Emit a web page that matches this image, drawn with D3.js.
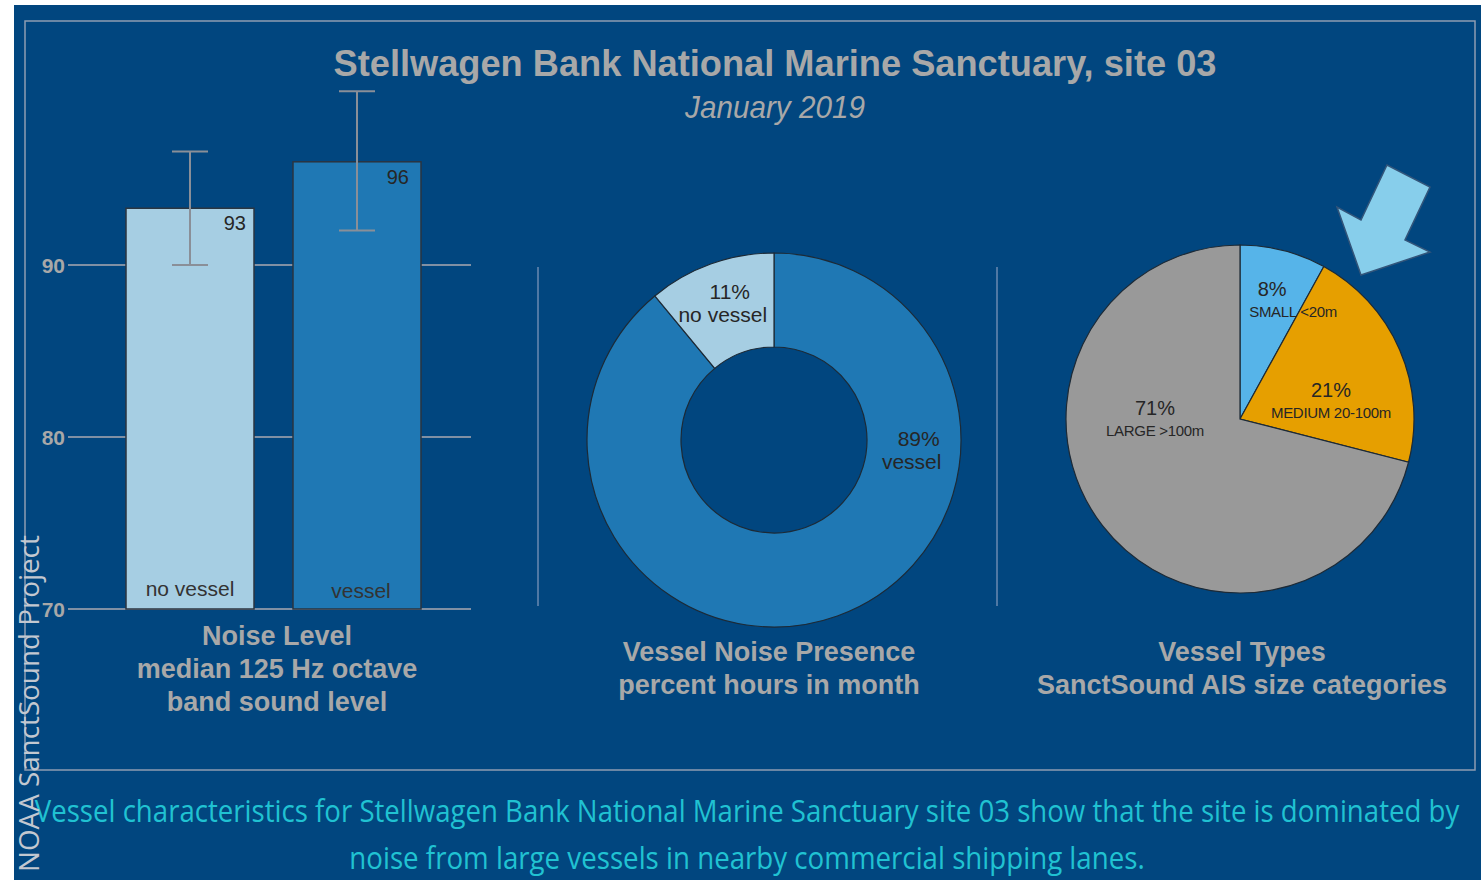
<!DOCTYPE html>
<html>
<head>
<meta charset="utf-8">
<script src="https://cdn.jsdelivr.net/npm/d3@7"></script>
<style>
  html, body { margin: 0; padding: 0; background: #fff; }
  svg { display: block; }
</style>
</head>
<body>
<div id="chart"></div>
<script>
// noise level panel
const barCategories = ["no vessel", "vessel"];
const barMedians = [93.3, 96.0];
const barLow = [90.0, 92.0];
const barHigh = [96.6, 100.1];
const barLabels = ["93", "96"];
const yTicks = [70, 80, 90];

// vessel noise presence panel
const presenceCategories = ["vessel", "no vessel"];
const presenceValues = [89, 11];

// vessel types panel
const typeCategories = ["SMALL <20m", "MEDIUM 20-100m", "LARGE >100m"];
const typeValues = [8, 21, 71];

const width = 1481;
const height = 880;
const bg = "#01467f";
const grey = "#a8a8a8";
const ink = "#262626";
const sans = "'Liberation Sans', Arial, Helvetica, sans-serif";

const svg = d3
  .select("#chart")
  .append("svg")
  .attr("width", width)
  .attr("height", height);

// squeeze/stretch a centred text horizontally so it spans `target` px
function fitWidth(sel, cx, y, target) {
  const natural = sel.node().getComputedTextLength();
  sel.attr("x", 0).attr("y", 0)
    .attr("transform", `translate(${cx}, ${y}) scale(${target / natural}, 1)`);
}

svg.append("rect")
  .attr("x", 14).attr("y", 5)
  .attr("width", width - 14).attr("height", height - 5)
  .attr("fill", bg);

svg.append("rect")
  .attr("x", 25).attr("y", 21)
  .attr("width", 1450).attr("height", 749)
  .attr("fill", "none")
  .attr("stroke", "#8e9db2")
  .attr("stroke-width", 1.5);

// title
const title = svg.append("text")
  .attr("text-anchor", "middle")
  .attr("font-family", sans)
  .attr("font-weight", "bold")
  .attr("font-size", 36)
  .attr("fill", grey)
  .text("Stellwagen Bank National Marine Sanctuary, site 03");
fitWidth(title, 775, 76, 883);

const subtitle = svg.append("text")
  .attr("text-anchor", "middle")
  .attr("font-family", sans)
  .attr("font-style", "italic")
  .attr("font-size", 32)
  .attr("fill", grey)
  .text("January 2019");
fitWidth(subtitle, 775, 118, 180);

// separators
[538, 997].forEach((x) => {
  svg.append("line")
    .attr("x1", x).attr("x2", x)
    .attr("y1", 267).attr("y2", 606)
    .attr("stroke", "#4f78a4")
    .attr("stroke-width", 2);
});

// ---- bar panel ----
const yScale = d3.scaleLinear().domain([70, 100]).range([609, 93]);
const xScale = d3.scaleBand()
  .domain(barCategories)
  .range([126, 421])
  .paddingInner(39 / 167)
  .paddingOuter(0);

const barG = svg.append("g");

barG.append("g")
  .selectAll("line")
  .data(yTicks)
  .join("line")
  .attr("x1", 68).attr("x2", 471)
  .attr("y1", (d) => yScale(d))
  .attr("y2", (d) => yScale(d))
  .attr("stroke", "#8090a4")
  .attr("stroke-width", 2);

barG.append("g")
  .selectAll("text")
  .data(yTicks)
  .join("text")
  .attr("x", 65)
  .attr("y", (d) => yScale(d) + 8)
  .attr("text-anchor", "end")
  .attr("font-family", sans)
  .attr("font-weight", "bold")
  .attr("font-size", 21)
  .attr("fill", grey)
  .text((d) => d);

const barFill = d3.scaleOrdinal().domain(barCategories).range(["#a6cee3", "#1f78b4"]);

barG.append("g")
  .selectAll("rect")
  .data(barCategories)
  .join("rect")
  .attr("x", (d) => xScale(d))
  .attr("y", (d, i) => yScale(barMedians[i]))
  .attr("width", xScale.bandwidth())
  .attr("height", (d, i) => yScale(70) - yScale(barMedians[i]))
  .attr("fill", (d) => barFill(d))
  .attr("stroke", "#2b3540")
  .attr("stroke-width", 1.5);

const errG = barG.append("g")
  .attr("stroke", "#8a8f98")
  .attr("stroke-width", 2);
barCategories.forEach((c, i) => {
  const cx = xScale(c) + xScale.bandwidth() / 2;
  errG.append("line")
    .attr("x1", cx).attr("x2", cx)
    .attr("y1", yScale(barHigh[i])).attr("y2", yScale(barLow[i]));
  [barHigh[i], barLow[i]].forEach((v) => {
    errG.append("line")
      .attr("x1", cx - 18).attr("x2", cx + 18)
      .attr("y1", yScale(v)).attr("y2", yScale(v));
  });
});

barG.append("g")
  .selectAll("text")
  .data(barCategories)
  .join("text")
  .attr("x", (d, i) => xScale(d) + xScale.bandwidth() - 8 - i * 4)
  .attr("y", (d, i) => yScale(barMedians[i]) + 22)
  .attr("text-anchor", "end")
  .attr("font-family", sans)
  .attr("font-size", 20)
  .attr("fill", ink)
  .text((d, i) => barLabels[i]);

barG.append("g")
  .selectAll("text")
  .data(barCategories)
  .join("text")
  .attr("x", (d, i) => xScale(d) + xScale.bandwidth() / 2 + i * 4)
  .attr("y", (d, i) => yScale(70) - 13 + i * 2)
  .attr("text-anchor", "middle")
  .attr("font-family", sans)
  .attr("font-size", 21)
  .attr("fill", "#333")
  .text((d) => d);

function panelCaption(cx, y0, lines) {
  svg.append("g")
    .selectAll("text")
    .data(lines)
    .join("text")
    .attr("x", cx)
    .attr("y", (d, i) => y0 + i * 33)
    .attr("text-anchor", "middle")
    .attr("font-family", sans)
    .attr("font-weight", "bold")
    .attr("font-size", 27)
    .attr("fill", grey)
    .text((d) => d);
}
panelCaption(277, 645, ["Noise Level", "median 125 Hz octave", "band sound level"]);
panelCaption(769, 661, ["Vessel Noise Presence", "percent hours in month"]);
panelCaption(1242, 661, ["Vessel Types", "SanctSound AIS size categories"]);

// ---- donut panel ----
const donutCenter = [774, 440];
const pie = d3.pie().sort(null).value((d) => d.value);
const presence = pie(presenceCategories.map((c, i) => ({ name: c, value: presenceValues[i] })));
const donutArc = d3.arc().innerRadius(93).outerRadius(187);
const donutFill = d3.scaleOrdinal().domain(presenceCategories).range(["#1f78b4", "#a6cee3"]);

const donutG = svg.append("g")
  .attr("transform", `translate(${donutCenter[0]}, ${donutCenter[1]})`);

donutG.selectAll("path")
  .data(presence)
  .join("path")
  .attr("d", donutArc)
  .attr("fill", (d) => donutFill(d.data.name))
  .attr("stroke", "#1d2a36")
  .attr("stroke-width", 1.2);

// label placement (angle in degrees clockwise from top, radius)
const donutLabelPos = { "vessel": [94, 142], "no vessel": [-19, 145] };
presence.forEach((d) => {
  const [deg, r] = donutLabelPos[d.data.name];
  const a = (deg * Math.PI) / 180;
  const lx = r * Math.sin(a);
  const ly = -r * Math.cos(a);
  const t = donutG.append("text")
    .attr("text-anchor", "middle")
    .attr("font-family", sans)
    .attr("font-size", 21)
    .attr("fill", ink);
  t.append("tspan").attr("x", lx + 3).attr("y", ly - 4).text(`${d.data.value}%`);
  t.append("tspan").attr("x", lx - 4).attr("y", ly + 19).text(d.data.name);
});

// ---- pie panel ----
const pieCenter = [1240, 419];
const types = pie(typeCategories.map((c, i) => ({ name: c, value: typeValues[i] })));
const pieArc = d3.arc().innerRadius(0).outerRadius(174);
const typeFill = d3.scaleOrdinal().domain(typeCategories).range(["#56b4e9", "#e69f00", "#999999"]);

const pieG = svg.append("g")
  .attr("transform", `translate(${pieCenter[0]}, ${pieCenter[1]})`);

pieG.selectAll("path")
  .data(types)
  .join("path")
  .attr("d", pieArc)
  .attr("fill", (d) => typeFill(d.data.name))
  .attr("stroke", "#1d2a36")
  .attr("stroke-width", 1.2);

const pieLabelPos = {
  "SMALL <20m": [15, 124, 21],
  "MEDIUM 20-100m": [78, 93, 0],
  "LARGE >100m": [271, 85, 0],
};
types.forEach((d) => {
  const [deg, r, nameDx] = pieLabelPos[d.data.name];
  const a = (deg * Math.PI) / 180;
  const lx = r * Math.sin(a);
  const ly = -r * Math.cos(a);
  const t = pieG.append("text")
    .attr("text-anchor", "middle")
    .attr("font-family", sans)
    .attr("fill", ink);
  t.append("tspan").attr("x", lx).attr("y", ly - 3).attr("font-size", 20).text(`${d.data.value}%`);
  t.append("tspan").attr("x", lx + nameDx).attr("y", ly + 18).attr("font-size", 15)
    .attr("letter-spacing", -0.3).text(d.data.name);
});

// call-out arrow pointing at the medium slice
svg.append("path")
  .attr("d", d3.line()([[1361, 275], [1337, 207], [1361, 220], [1387, 165], [1430, 187], [1405, 240], [1430, 252]]) + "Z")
  .attr("fill", "#87ceeb")
  .attr("stroke", "#33557a")
  .attr("stroke-width", 1.5);

// footer caption
const captionLines = [
  "Vessel characteristics for Stellwagen Bank National Marine Sanctuary site 03 show that the site is dominated by",
  "noise from large vessels in nearby commercial shipping lanes.",
];
const captionWidths = [1425, 796];
captionLines.forEach((line, i) => {
  const t = svg.append("text")
    .attr("text-anchor", "middle")
    .attr("font-family", "'Open Sans', sans-serif")
    .attr("font-size", 31)
    .attr("fill", "#20c2d2")
    .text(line);
  fitWidth(t, 747, 822 + i * 47, captionWidths[i]);
});

const side = svg.append("text")
  .attr("font-family", "'Open Sans', sans-serif")
  .attr("font-size", 28)
  .attr("fill", "#c3c8d0")
  .text("NOAA SanctSound Project");
const sideLen = side.node().getComputedTextLength();
side.attr("transform", `translate(39, 872) rotate(-90) scale(${337 / sideLen}, 1)`);
</script>
</body>
</html>
